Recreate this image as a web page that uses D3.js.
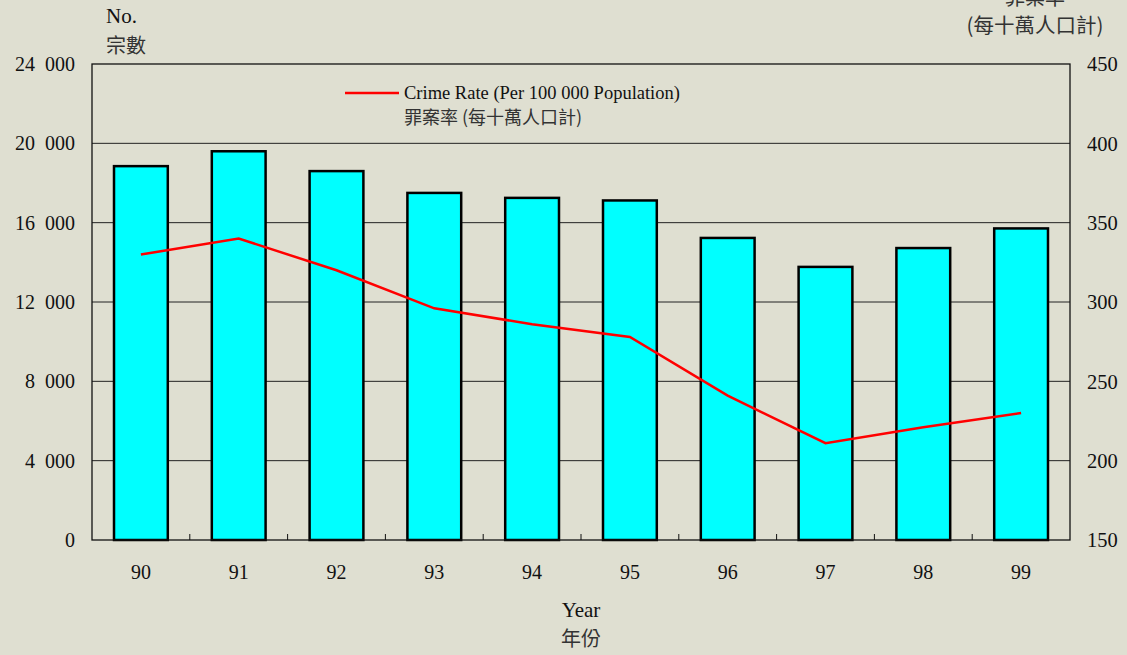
<!DOCTYPE html>
<html><head><meta charset="utf-8">
<script src="https://cdn.jsdelivr.net/npm/d3@7"></script>
<style>
body{margin:0;background:#dfdfd1;}
svg{display:block;}
text{font-family:"Liberation Serif","Times New Roman",serif;fill:#111;}
.cjk{font-family:"Noto Sans CJK TC","Noto Sans CJK SC",sans-serif;fill:#333;}
</style></head>
<body>
<svg id="c" width="1127" height="655"></svg>
<script>
const years = ["90","91","92","93","94","95","96","97","98","99"];
const cases = [18850, 19600, 18600, 17500, 17250, 17120, 15230, 13770, 14720, 15710];
const crimeRate = [330, 340, 320, 296, 286, 278, 241, 211, 221, 230];
const leftTicks = [0, 4000, 8000, 12000, 16000, 20000, 24000];
const rightTicks = [150, 200, 250, 300, 350, 400, 450];

const svg = d3.select("#c");
const L = 92, R = 1070, T = 64, B = 540;
const x = d3.scaleBand().domain(years).range([L, R]).paddingInner(0.45).paddingOuter(0.225);
const xb = d3.scaleBand().domain(years).range([L, R]);
const yL = d3.scaleLinear().domain([0, 24000]).range([B, T]);
const yR = d3.scaleLinear().domain([150, 450]).range([B, T]);
const fmt = v => v === 0 ? "0" : d3.format(",")(v).replace(",", "\u00a0\u00a0");

// gridlines
svg.append("g").selectAll("line").data(leftTicks.filter(v => v > 0 && v < 24000)).join("line")
  .attr("x1", L).attr("x2", R).attr("y1", d => yL(d)).attr("y2", d => yL(d))
  .attr("stroke", "#222").attr("stroke-width", 1);

// bars
svg.append("g").selectAll("rect").data(years).join("rect")
  .attr("x", d => x(d)).attr("width", x.bandwidth())
  .attr("y", (d, i) => yL(cases[i])).attr("height", (d, i) => B - yL(cases[i]))
  .attr("fill", "#00ffff").attr("stroke", "#000").attr("stroke-width", 2.5);

// frame
svg.append("rect").attr("x", L).attr("y", T).attr("width", R - L).attr("height", B - T)
  .attr("fill", "none").attr("stroke", "#111").attr("stroke-width", 1.3);

// bottom small ticks between categories
svg.append("g").selectAll("line").data(years.slice(1)).join("line")
  .attr("x1", d => xb(d)).attr("x2", d => xb(d)).attr("y1", B).attr("y2", B - 6)
  .attr("stroke", "#111").attr("stroke-width", 1);

// line
const line = d3.line().x((d, i) => xb(years[i]) + xb.bandwidth() / 2).y(d => yR(d));
svg.append("path").datum(crimeRate).attr("d", line)
  .attr("fill", "none").attr("stroke", "#ff0000").attr("stroke-width", 2.5);

// left axis labels
svg.append("g").selectAll("text").data(leftTicks).join("text")
  .attr("x", 75).attr("y", d => yL(d)).attr("dy", "0.35em").attr("text-anchor", "end")
  .attr("font-size", 20).text(fmt);

// right axis labels
svg.append("g").selectAll("text").data(rightTicks).join("text")
  .attr("x", 1087).attr("y", d => yR(d)).attr("dy", "0.35em").attr("text-anchor", "start")
  .attr("font-size", 20.5).text(d => d);

// x labels
svg.append("g").selectAll("text").data(years).join("text")
  .attr("x", d => xb(d) + xb.bandwidth() / 2).attr("y", 572).attr("dy", "0.35em")
  .attr("text-anchor", "middle").attr("font-size", 20).text(d => d);

// titles
svg.append("text").attr("x", 106).attr("y", 23).attr("font-size", 21).text("No.");
svg.append("text").attr("class", "cjk").attr("x", 106).attr("y", 53).attr("font-size", 20).text("宗數");
svg.append("text").attr("class", "cjk").attr("x", 1035).attr("y", 5).attr("text-anchor", "middle").attr("font-size", 20).text("罪案率");
svg.append("text").attr("class", "cjk").attr("x", 1035).attr("y", 33).attr("text-anchor", "middle").attr("font-size", 20.5).text("(每十萬人口計)");
svg.append("text").attr("x", 581).attr("y", 617).attr("text-anchor", "middle").attr("font-size", 21).text("Year");
svg.append("text").attr("class", "cjk").attr("x", 581).attr("y", 646).attr("text-anchor", "middle").attr("font-size", 20).text("年份");

// legend
svg.append("line").attr("x1", 345).attr("x2", 399).attr("y1", 93).attr("y2", 93)
  .attr("stroke", "#ff0000").attr("stroke-width", 2.5);
svg.append("text").attr("x", 404).attr("y", 93).attr("dy", "0.35em").attr("font-size", 18.5)
  .text("Crime Rate (Per 100 000 Population)");
svg.append("text").attr("class", "cjk").attr("x", 404).attr("y", 118).attr("dy", "0.35em").attr("font-size", 18)
  .text("罪案率 (每十萬人口計)");
</script>
</body></html>
